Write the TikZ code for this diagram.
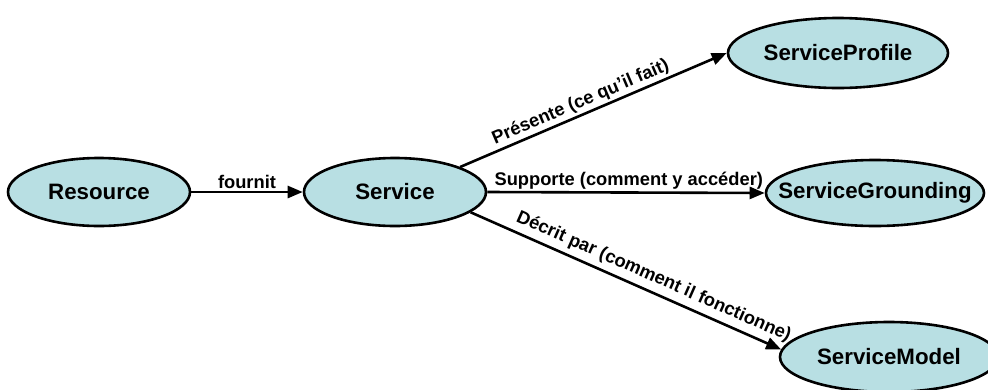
\documentclass[tikz,border=0pt]{standalone}
\usepackage{fontspec}
\setmainfont{Liberation Sans}
\usetikzlibrary{shapes.geometric,arrows.meta}
\definecolor{nodefill}{RGB}{184,223,227}
\newcommand{\ctext}[1]{\makebox[0pt]{#1}}
\begin{document}
\begin{tikzpicture}[x=1pt,y=-1pt,
  concept/.style={ellipse,draw=black,line width=2.6pt,fill=nodefill,inner sep=0pt,
    font=\fontsize{22.3}{25}\selectfont\bfseries},
  rel/.style={line width=2.6pt,-{Triangle[length=15pt,width=12pt]}},
  lbl/.style={font=\fontsize{18.3}{21}\selectfont\bfseries,inner sep=2pt}]
\useasboundingbox (0,0) rectangle (988,389);
\begin{scope}
\clip (0,0) rectangle (988,389);
\node[concept,minimum width=182pt,minimum height=68pt] (res) at (99,192) {\ctext{Resource}};
\node[concept,minimum width=182pt,minimum height=68pt] (srv) at (395,192) {\ctext{Service}};
\node[concept,minimum width=220pt,minimum height=70pt] (prof) at (838,53) {\ctext{ServiceProfile}};
\node[concept,minimum width=218pt,minimum height=66pt] (grd) at (875,193) {\ctext{ServiceGrounding}};
\node[concept,minimum width=218pt,minimum height=70pt] (mod) at (889,357) {\ctext{ServiceModel}};
\draw[rel] (res.east) -- node[lbl,above] {fournit} (srv.west);
\draw[rel] (srv.21) -- node[lbl,sloped,above,pos=0.47] {Présente (ce qu’il fait)} (prof.west);
\draw[rel] (srv.east) -- node[lbl,above,pos=0.51] {Supporte (comment y accéder)} (grd.west);
\draw[rel] (srv.-15) -- node[lbl,sloped,above=3pt,pos=0.57] {Décrit par (comment il fonctionne)} (mod.176);
\end{scope}
\end{tikzpicture}
\end{document}
